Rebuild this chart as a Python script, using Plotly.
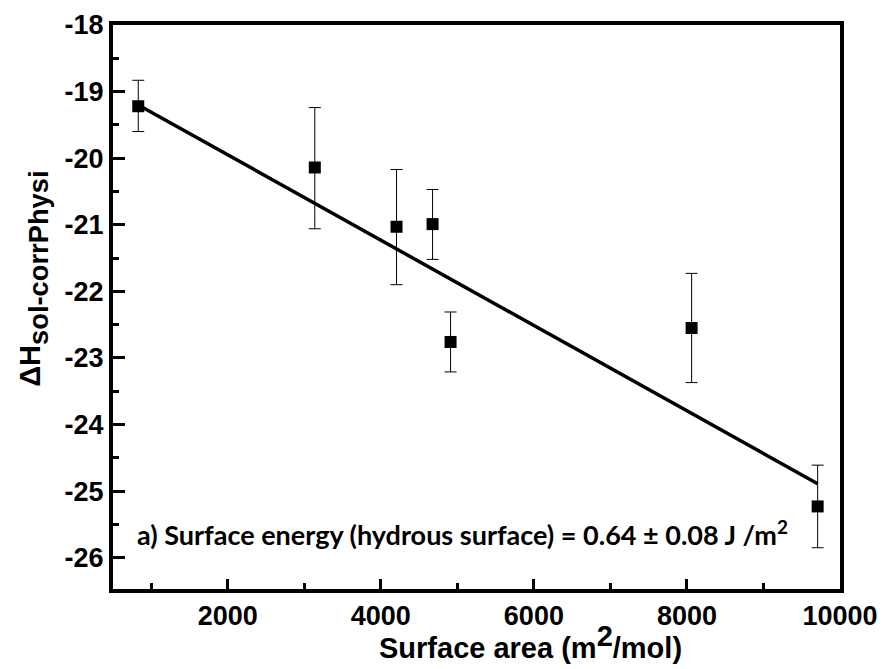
import plotly.graph_objects as go

# Data
surface_area = [830, 3137, 4205, 4676, 4911, 8061, 9708]
dH = [-19.22, -20.14, -21.03, -20.99, -22.76, -22.55, -25.23]
err_plus = [0.39, 0.90, 0.86, 0.52, 0.45, 0.82, 0.62]
err_minus = [0.38, 0.92, 0.87, 0.53, 0.45, 0.82, 0.62]

fit_x = [830, 9708]
fit_y = [-19.20, -24.89]

x_ticks = [2000, 4000, 6000, 8000, 10000]
x_ticktext = ["2000", "4000", "6000", "8000", "10000"]
y_ticks = [-18, -19, -20, -21, -22, -23, -24, -25, -26]
y_ticktext = ["-18", "-19", "-20", "-21", "-22", "-23", "-24", "-25", "-26"]

BOLD = "Liberation Sans"

fig = go.Figure()
fig.add_trace(go.Scatter(
    x=fit_x, y=fit_y, mode="lines",
    line=dict(color="black", width=3.5),
    showlegend=False, hoverinfo="skip"))
fig.add_trace(go.Scatter(
    x=surface_area, y=dH, mode="markers",
    marker=dict(symbol="square", size=12, color="black"),
    error_y=dict(type="data", symmetric=False, array=err_plus, arrayminus=err_minus,
                 color="black", thickness=1, width=6),
    showlegend=False))

axis_common = dict(
    showline=True, linecolor="black", linewidth=4, mirror=True,
    ticks="inside", tickcolor="black", tickwidth=3,
    showgrid=False, zeroline=False, automargin=False,
    tickfont=dict(family=BOLD, size=27, color="black", weight="bold"),
)

# the page body has an 8px default margin, so the figure is sized to fit the window
fig.update_layout(
    width=878, height=661,
    margin=dict(l=105, r=46, t=17, b=80),
    paper_bgcolor="white", plot_bgcolor="white",
    xaxis=dict(
        range=[500, 10000], tickvals=x_ticks, ticktext=x_ticktext, ticklen=10,
        minor=dict(dtick=1000, tick0=0, ticks="inside", ticklen=6, tickwidth=3, tickcolor="black"),
        **axis_common),
    yaxis=dict(
        range=[-26.47, -18], tickvals=y_ticks, ticktext=y_ticktext, ticklen=12,
        minor=dict(dtick=0.5, tick0=0, ticks="inside", ticklen=6, tickwidth=3, tickcolor="black"),
        **axis_common),
    annotations=[
        dict(
            xref="paper", yref="paper", x=0.030, y=0.099, xanchor="left", yanchor="middle",
            text="a) Surface energy (hydrous surface) = 0.64 ± 0.08 J /m<sup>2</sup>",
            showarrow=False,
            font=dict(family="Lato", size=27, color="black", weight="bold")),
        dict(
            xref="paper", yref="paper", x=0.5736, y=-0.094, xanchor="center", yanchor="middle",
            text="Surface area (m<sup><span style='font-size:29px'>2</span></sup>/mol)",
            showarrow=False,
            font=dict(family=BOLD, size=29, color="black", weight="bold")),
        dict(
            xref="paper", yref="paper", x=-0.108, y=0.551, xanchor="center", yanchor="middle",
            textangle=-90,
            text="<span style='font-size:29px'>ΔH</span><sub>sol-corrPhysi</sub>",
            showarrow=False,
            font=dict(family=BOLD, size=39, color="black", weight="bold")),
    ],
)

fig.write_html("out.html")
